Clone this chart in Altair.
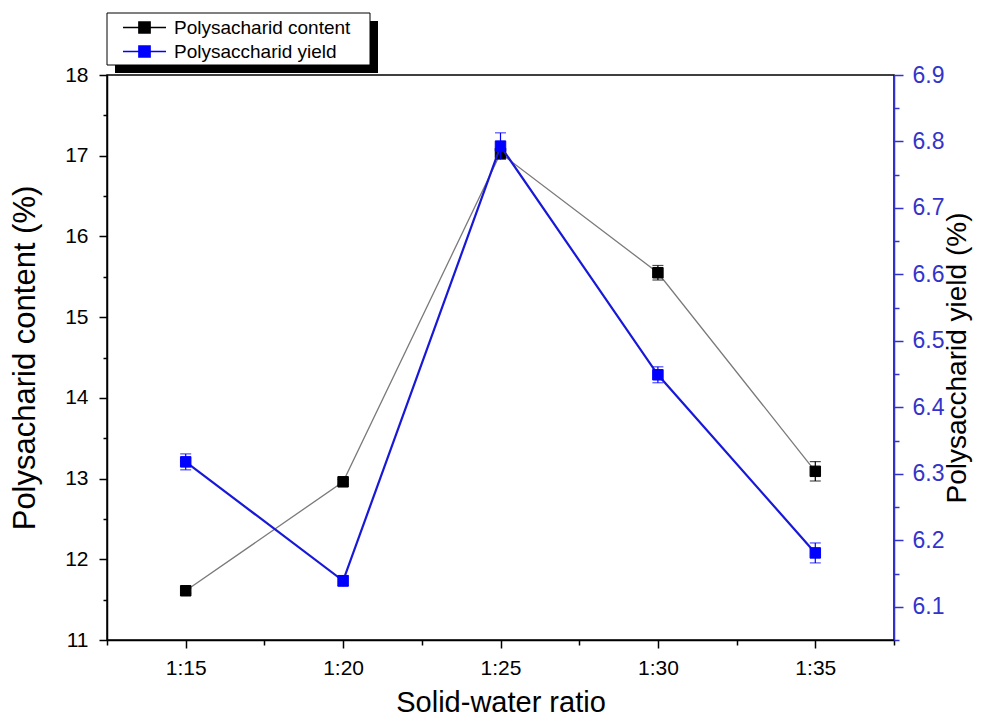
import altair as alt
import pandas as pd

# ---- data ----
ratios = [15, 20, 25, 30, 35]
content = [11.61, 12.96, 17.03, 15.55, 13.09]
content_err = [0.03, 0.03, 0.05, 0.09, 0.12]
yield_vals = [6.318, 6.139, 6.793, 6.449, 6.181]
yield_err = [0.012, 0.008, 0.02, 0.012, 0.015]
series_names = ["Polysacharid content", "Polysaccharid yield"]

x_ticks = [12.5, 15, 17.5, 20, 22.5, 25, 27.5, 30, 32.5, 35, 37.5]
left_ticks = [11, 11.5, 12, 12.5, 13, 13.5, 14, 14.5, 15, 15.5, 16, 16.5, 17, 17.5, 18]
right_ticks = [6.05, 6.1, 6.15, 6.2, 6.25, 6.3, 6.35, 6.4, 6.45, 6.5, 6.55,
               6.6, 6.65, 6.7, 6.75, 6.8, 6.85, 6.9]

FONT = "Liberation Sans"
BLUE = "#0000ff"
AXBLUE = "#3333cc"

df = pd.DataFrame({
    "ratio": ratios,
    "content": content,
    "content_err": content_err,
    "yld": yield_vals,
    "yld_err": yield_err,
})

base = alt.Chart(df).transform_calculate(
    c_lo="datum.content - datum.content_err",
    c_hi="datum.content + datum.content_err",
    y_lo="datum.yld - datum.yld_err",
    y_hi="datum.yld + datum.yld_err",
)

x_enc = alt.X(
    "ratio:Q",
    scale=alt.Scale(domain=[12.5, 37.5], nice=False, zero=False),
    axis=alt.Axis(
        values=x_ticks,
        labelExpr="datum.value % 5 == 0 ? '1:' + datum.value : ''",
        tickSize={"condition": {"test": "datum.value % 5 == 0", "value": 8}, "value": 5},
        labelFontSize=21,
        labelPadding=9,
        title="Solid-water ratio",
        titleFontSize=29,
        titlePadding=10,
    ),
)

yl_scale = alt.Scale(domain=[11, 18], nice=False, zero=False)
left_axis = alt.Axis(
    values=left_ticks,
    labelExpr="datum.value % 1 == 0 ? datum.value : ''",
    tickSize={"condition": {"test": "datum.value % 1 == 0", "value": 8}, "value": 4},
    labelFontSize=21,
    labelPadding=11,
    title="Polysacharid content (%)",
    titleFontSize=31,
    titlePadding=23,
)

yr_scale = alt.Scale(domain=[6.05, 6.9], nice=False, zero=False)
right_axis = alt.Axis(
    orient="right",
    values=right_ticks,
    labelExpr="round(datum.value * 100) % 10 == 0 ? format(datum.value, '.1f') : ''",
    tickSize={"condition": {"test": "round(datum.value * 100) % 10 == 0", "value": 9}, "value": 5},
    domainColor=AXBLUE,
    tickColor=AXBLUE,
    labelColor=AXBLUE,
    labelFontSize=23,
    labelPadding=9,
    title="Polysaccharid yield (%)",
    titleColor="black",
    titleFontSize=28,
    titleAngle=270,
    titlePadding=28,
)

series_scale = alt.Scale(domain=series_names, range=["black", BLUE])
# line-square-line legend glyph; drawn twice as wide as its nominal symbol box
SYM = "M-2,0H-0.52M0.52,0H2M-0.52,-0.52H0.52V0.52H-0.52Z"
legend = alt.Legend(
    title=None,
    orient="none",
    direction="vertical",
    legendX=26,
    legendY=-59,
    symbolType=SYM,
    symbolSize=462,
    symbolStrokeWidth=1.5,
    labelFont=FONT,
    labelFontSize=19,
    labelColor="black",
    labelOffset=18,
    labelLimit=400,
    rowPadding=2,
    padding=0,
)

# legend box with drop shadow
deco = alt.Chart(alt.Data(values=[{"k": 1}]))
shadow = deco.mark_rect(color="black").encode(
    x=alt.value(8), x2=alt.value(271), y=alt.value(-54), y2=alt.value(-2)
)
box = deco.mark_rect(fill="white", stroke="black", strokeWidth=1).encode(
    x=alt.value(0), x2=alt.value(263), y=alt.value(-62), y2=alt.value(-10)
)

# ---- content series (left axis) ----
c_line = base.mark_line(color="#7a7a7a", strokeWidth=1.3).encode(
    x=x_enc, y=alt.Y("content:Q", scale=yl_scale, axis=left_axis)
)
c_rule = base.mark_rule(color="black", strokeWidth=1.2).encode(
    x=x_enc, y=alt.Y("c_lo:Q", scale=yl_scale, axis=left_axis), y2="c_hi:Q"
)
c_cap_lo = base.mark_tick(orient="horizontal", size=11, thickness=1.2, color="black").encode(
    x=x_enc, y=alt.Y("c_lo:Q", scale=yl_scale, axis=left_axis)
)
c_cap_hi = base.mark_tick(orient="horizontal", size=11, thickness=1.2, color="black").encode(
    x=x_enc, y=alt.Y("c_hi:Q", scale=yl_scale, axis=left_axis)
)
c_pts = base.transform_calculate(series="'Polysacharid content'").mark_square(
    size=110, filled=True, opacity=1, strokeWidth=1
).encode(
    x=x_enc,
    y=alt.Y("content:Q", scale=yl_scale, axis=left_axis),
    fill=alt.Fill("series:N", scale=series_scale, legend=legend),
    stroke=alt.Stroke("series:N", scale=series_scale, legend=legend),
)

content_layer = alt.layer(shadow, box, c_line, c_rule, c_cap_lo, c_cap_hi, c_pts)

# ---- yield series (right axis) ----
y_line = base.mark_line(color="#1818d8", strokeWidth=2.2).encode(
    x=x_enc, y=alt.Y("yld:Q", scale=yr_scale, axis=right_axis)
)
y_rule = base.mark_rule(color=BLUE, strokeWidth=1.2).encode(
    x=x_enc, y=alt.Y("y_lo:Q", scale=yr_scale, axis=right_axis), y2="y_hi:Q"
)
y_cap_lo = base.mark_tick(orient="horizontal", size=11, thickness=1.2, color=BLUE).encode(
    x=x_enc, y=alt.Y("y_lo:Q", scale=yr_scale, axis=right_axis)
)
y_cap_hi = base.mark_tick(orient="horizontal", size=11, thickness=1.2, color=BLUE).encode(
    x=x_enc, y=alt.Y("y_hi:Q", scale=yr_scale, axis=right_axis)
)
y_pts = base.transform_calculate(series="'Polysaccharid yield'").mark_square(
    size=110, filled=True, opacity=1, strokeWidth=1
).encode(
    x=x_enc,
    y=alt.Y("yld:Q", scale=yr_scale, axis=right_axis),
    fill=alt.Fill("series:N", scale=series_scale, legend=legend),
    stroke=alt.Stroke("series:N", scale=series_scale, legend=legend),
)

yield_layer = alt.layer(y_line, y_rule, y_cap_lo, y_cap_hi, y_pts)

chart = (
    alt.layer(content_layer, yield_layer)
    .resolve_scale(y="independent")
    .properties(
        width=787,
        height=565,
        autosize=alt.AutoSizeParams(type="none"),
        padding={"left": 99, "top": 67, "right": 79, "bottom": 78},
        background="white",
    )
    .configure_view(stroke="black", strokeWidth=1.5)
    .configure_axis(
        grid=False,
        domainColor="black",
        domainWidth=1.5,
        tickColor="black",
        tickWidth=1.5,
        labelFont=FONT,
        titleFont=FONT,
        labelColor="black",
        titleColor="black",
        titleFontWeight="normal",
        labelFlush=False,
        labelOverlap=False,
    )
)

chart.save("out.html", embed_options={"renderer": "svg", "actions": False})
